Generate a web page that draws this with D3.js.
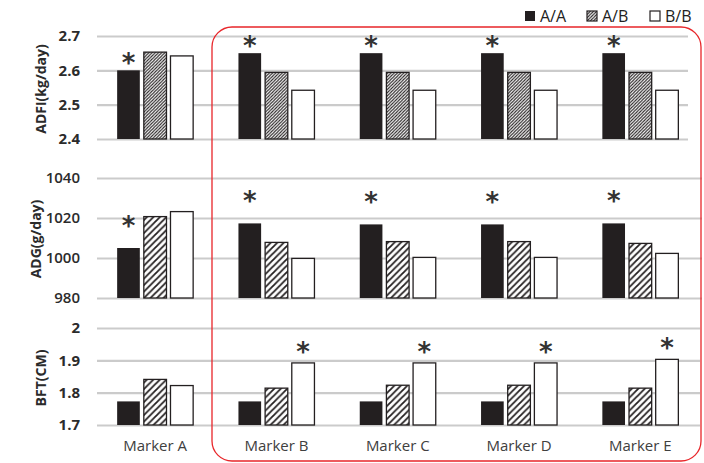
<!DOCTYPE html>
<html><head><meta charset="utf-8">
<script src="https://cdn.jsdelivr.net/npm/d3@7/dist/d3.min.js"></script>
<style>body{margin:0;background:#fff}svg{display:block}</style>
</head><body>
<script>
const categories = ["Marker A","Marker B","Marker C","Marker D","Marker E"];
const series = ["A/A","A/B","B/B"];

const adfiAA = [2.60, 2.65, 2.65, 2.65, 2.65];
const adfiAB = [2.653, 2.594, 2.594, 2.594, 2.594];
const adfiBB = [2.642, 2.542, 2.542, 2.542, 2.542];
const adfiTicks = [2.4, 2.5, 2.6, 2.7];
const adfiStar = ["A/A","A/A","A/A","A/A","A/A"];

const adgAA = [1005, 1017.3, 1016.8, 1016.8, 1017.3];
const adgAB = [1020.7, 1007.8, 1008.2, 1008.2, 1007.3];
const adgBB = [1023.2, 999.8, 1000.3, 1000.3, 1002.3];
const adgTicks = [980, 1000, 1020, 1040];
const adgStar = ["A/A","A/A","A/A","A/A","A/A"];

const bftAA = [1.773, 1.773, 1.773, 1.773, 1.773];
const bftAB = [1.841, 1.814, 1.823, 1.823, 1.814];
const bftBB = [1.822, 1.892, 1.892, 1.892, 1.903];
const bftTicks = [1.7, 1.8, 1.9, 2];
const bftStar = [null,"B/B","B/B","B/B","B/B"];

const W = 704, H = 463;
const svg = d3.select("body").append("svg").attr("width", W).attr("height", H);
const defs = svg.append("defs");
function hatch(id, size, sw){
  const p = defs.append("pattern").attr("id", id).attr("patternUnits","userSpaceOnUse")
    .attr("width", size).attr("height", size);
  p.append("rect").attr("width", size).attr("height", size).attr("fill","#fff");
  p.append("path").attr("d", `M0,${size} L${size},0 M${-size/2},${size/2} L${size/2},${-size/2} M${size/2},${size*1.5} L${size*1.5},${size/2}`)
    .attr("stroke","#231f20").attr("stroke-width", sw);
}
hatch("hatchFine", 3.2, 1.1);
hatch("hatchCoarse", 6.5, 1.8);

const x = d3.scaleBand().domain(categories).range([94.5, 701]);
const xs = d3.scaleBand().domain(series).range([-38, 38]).paddingInner(0.15);

const panels = [
  {title:"ADFI(kg/day)", vals:[adfiAA,adfiAB,adfiBB], ticks:adfiTicks, star:adfiStar, dom:[2.4,2.7], rng:[139,36], gx:[97,688], hatch:"hatchFine", tx:40, ty:89, starGap:7.5, fmt:d3.format(".1f"), tw:"bold"},
  {title:"ADG(g/day)", vals:[adgAA,adgAB,adgBB], ticks:adgTicks, star:adgStar, dom:[980,1040], rng:[298,178], gx:[97,702], hatch:"hatchCoarse", tx:35, ty:239, starGap:22, fmt:d3.format("d"), tw:"600"},
  {title:"BFT(CM)", vals:[bftAA,bftAB,bftBB], ticks:bftTicks, star:bftStar, dom:[1.7,2.0], rng:[425,328], gx:[97,700], hatch:"hatchCoarse", tx:40, ty:378, starGap:11, fmt:d=> d===2?"2":d3.format(".1f")(d), tw:"bold"}
];

panels.forEach(P => {
  const y = d3.scaleLinear().domain(P.dom).range(P.rng);
  const g = svg.append("g");
  const ax = g.append("g").attr("transform", `translate(${P.gx[0]},0)`)
    .call(d3.axisLeft(y).tickValues(P.ticks).tickSize(-(P.gx[1]-P.gx[0])).tickFormat(P.fmt).tickPadding(17));
  ax.select(".domain").remove();
  ax.selectAll(".tick line").attr("stroke","#cbcbcb").attr("stroke-width",2.2);
  ax.selectAll(".tick text").attr("font-family","'Open Sans', 'DejaVu Sans', sans-serif")
    .attr("font-size",15).attr("font-weight",P.tw).attr("fill","#2b2b2b");
  g.append("text").attr("transform",`translate(${P.tx},${P.ty}) rotate(-90)`)
    .attr("text-anchor","middle").attr("dominant-baseline","central")
    .attr("font-family","'Open Sans', 'DejaVu Sans', sans-serif").attr("font-size",14)
    .attr("font-weight","bold").attr("fill","#2b2b2b").text(P.title);
  series.forEach((s, si) => {
    g.append("g").selectAll("rect").data(categories).join("rect")
      .attr("x", (c) => x(c) + x.bandwidth()/2 + xs(s))
      .attr("width", xs.bandwidth())
      .attr("y", (c,i) => y(P.vals[si][i]))
      .attr("height", (c,i) => y(P.dom[0]) - y(P.vals[si][i]))
      .attr("fill", si===0 ? "#231f20" : si===1 ? `url(#${P.hatch})` : "#ffffff")
      .attr("stroke", "#231f20").attr("stroke-width", si===0 ? 0 : 1.3);
  });
  categories.forEach((c, i) => {
    const s = P.star[i];
    if (!s) return;
    const si = series.indexOf(s);
    const cx = x(c) + x.bandwidth()/2 + xs(s) + xs.bandwidth()/2;
    const cy = y(P.vals[si][i]) - P.starGap;
    const t = g.append("text").attr("x", cx).attr("y", cy).attr("text-anchor","middle")
      .attr("font-family","'DejaVu Sans', sans-serif").attr("font-weight","bold")
      .attr("font-size",26).attr("fill","#333").text("*");
    const b = t.node().getBBox();
    t.attr("y", cy - (b.y + b.height/2 - cy));
  });
});

svg.append("g").selectAll("text").data(categories).join("text")
  .attr("x", c => x(c) + x.bandwidth()/2).attr("y", 451).attr("text-anchor","middle")
  .attr("font-family","'Open Sans', sans-serif").attr("font-size",15).attr("fill","#404040").text(c => c);

const leg = svg.append("g");
const legX = [525, 587, 650];
series.forEach((s, i) => {
  leg.append("rect").attr("x", legX[i]).attr("y", 11).attr("width", 10).attr("height", 10)
    .attr("fill", i===0 ? "#231f20" : i===1 ? "url(#hatchFine)" : "#fff")
    .attr("stroke","#231f20").attr("stroke-width", i===0?0:1.2);
  leg.append("text").attr("x", legX[i] + 15).attr("y", 22)
    .attr("font-family","'Open Sans', sans-serif").attr("font-size",16).attr("fill","#222").text(s);
});

svg.append("rect").attr("x", 212).attr("y", 27).attr("width", 489).attr("height", 434)
  .attr("rx", 20).attr("ry", 20).attr("fill","none").attr("stroke","#e8262a").attr("stroke-width",1.3);
</script>
</body></html>
